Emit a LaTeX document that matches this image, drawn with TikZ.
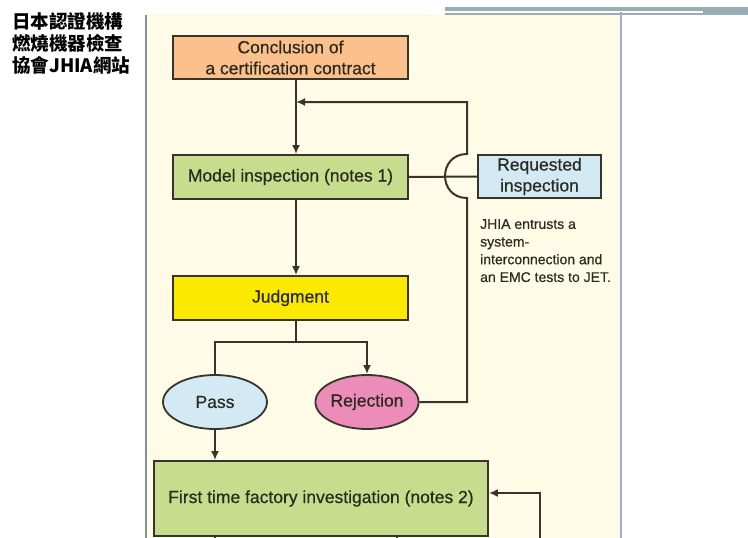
\documentclass[tikz,border=0pt]{standalone}
\usepackage{fontspec}
\setmainfont{Liberation Sans}
\newfontfamily\heavy[FakeBold=0.5]{Liberation Sans}
\newfontfamily\cjk{Noto Sans CJK TC}
\usetikzlibrary{arrows.meta}
\usetikzlibrary{shapes.geometric}
\definecolor{panel}{HTML}{FFFBE6}
\definecolor{leftblue}{HTML}{7F8EA2}
\definecolor{rightblue}{HTML}{A3A9DC}
\definecolor{bargray}{HTML}{98AEB4}
\definecolor{linegray}{HTML}{35352C}
\definecolor{textdark}{HTML}{2A2A1E}
\definecolor{orangebox}{HTML}{FBC08C}
\definecolor{greenbox}{HTML}{C8DC8E}
\definecolor{yellowbox}{HTML}{FCE900}
\definecolor{bluebox}{HTML}{D3EAF5}
\definecolor{pinkbox}{HTML}{EC8CB8}
\tikzset{box/.style={draw=linegray, line width=1.8pt, text=textdark, align=center,
  font=\heavy\fontsize{17.5}{21}\selectfont, inner sep=0pt},
  oval/.style={box, ellipse},
  flow/.style={draw=linegray, line width=2pt},
  arr/.style={flow, -{Latex[length=9pt,width=8pt]}}}

\begin{document}
\begin{tikzpicture}[x=1pt, y=-1pt]
      \useasboundingbox (0,0) rectangle (748,538);

      \fill[white] (0,0) rectangle (748,538);
      \fill[panel] (147,14) rectangle (621,538);
      \fill[bargray] (445,7) rectangle (748,15);
      \fill[white] (445,10.5) rectangle (703,12.5);
      \draw[leftblue, line width=2.5] (146,15) -- (146,538);
      \draw[rightblue, line width=2.5] (621,12) -- (621,538);

      \node[anchor=north west, align=left, inner sep=0pt, font=\cjk\bfseries\fontsize{18.5}{22}\selectfont] (site) at (12,12) {日本認證機構\\燃燒機器檢查\\協會JHIA網站};

      \node[box, fill=orangebox, minimum width=235, minimum height=43] (concl) at (290.5,57.5) {Conclusion of\\a certification contract};
      \node[box, fill=greenbox, minimum width=235, minimum height=44] (model) at (290.5,177) {Model inspection (notes 1)};
      \node[box, fill=bluebox, minimum width=123, minimum height=43] (req) at (539.5,176.5) {Requested\\inspection};
      \node[box, fill=yellowbox, minimum width=235, minimum height=44] (judg) at (290.5,298) {Judgment};
      \node[oval, fill=bluebox, minimum width=104, minimum height=54] (pass) at (215,402) {Pass};
      \node[oval, fill=pinkbox, minimum width=102, minimum height=54] (rej) at (367,402) {Rejection};
      \node[box, fill=greenbox, minimum width=334, minimum height=75] (first) at (321,498.5) {First time factory investigation (notes 2)};

      \node[anchor=north west, align=left, inner sep=0pt, text=textdark, font=\heavy\fontsize{14}{17.7}\selectfont] (note) at (480,219) {JHIA entrusts a\\system-\\interconnection and\\an EMC tests to JET.};

      \coordinate (join) at (296,102);
      \coordinate (split) at (296,342);
      \coordinate (loopin) at (540,540);
      \coordinate (out1) at (215,540);
      \coordinate (out2) at (397,540);

      \draw[arr] ([xshift=5.5pt]concl.south) -- ([xshift=5.5pt]model.north);
      \draw[arr] ([xshift=5.5pt]model.south) -- ([xshift=5.5pt]judg.north);
      \draw[flow] (model.east) -- (req.west);
      \draw[arr] (rej.east) -- (467,402) -- (467,198) .. controls (437.7,198) and (437.7,154) .. (467,154) -- (467,102) -- (join);

      \draw[flow] ([xshift=5.5pt]judg.south) -- (split);
      \draw[flow] (split) -| (pass.north);
      \draw[arr] (split) -| (rej.north);
      \draw[arr] (pass.south) -- (pass.south |- first.north);
      \draw[arr] (loopin) |- ([yshift=5.5pt]first.east);
      \draw[flow] (first.south -| out1) -- (out1);
      \draw[flow] (first.south -| out2) -- (out2);
    \end{tikzpicture}
\end{document}
